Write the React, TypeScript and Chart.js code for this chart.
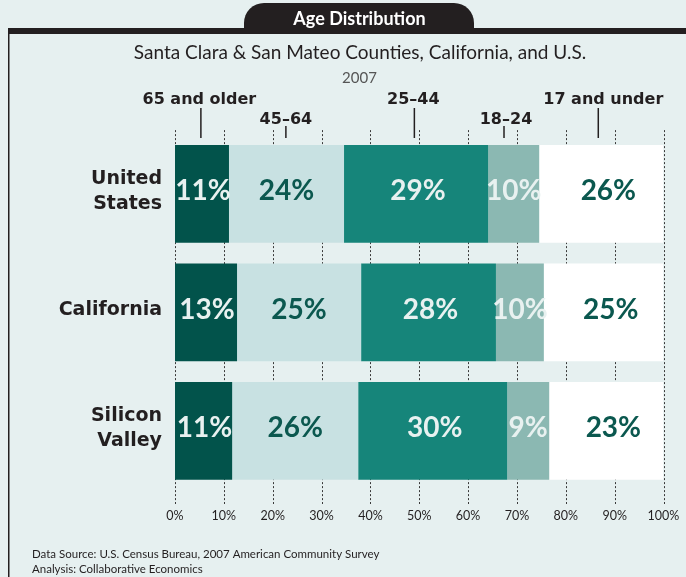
import React, { useEffect, useRef } from "react";
import { Chart, registerables } from "chart.js";

Chart.register(...registerables);

// ---------- data ----------
const REGIONS = ["United States", "California", "Silicon Valley"];
const REGION_LABEL_LINES = [["United", "States"], ["California"], ["Silicon", "Valley"]];
const AGE_GROUPS = ["65 and older", "45–64", "25–44", "18–24", "17 and under"];

// bar lengths (share of population, %)
const AGE_65_PLUS = [11.05, 12.7, 11.7];
const AGE_45_64 = [23.55, 25.4, 25.8];
const AGE_25_44 = [29.5, 27.6, 30.5];
const AGE_18_24 = [10.45, 9.8, 8.6];
const AGE_UNDER_18 = [25.45, 24.5, 23.4];

// printed value labels
const LABEL_65_PLUS = ["11%", "13%", "11%"];
const LABEL_45_64 = ["24%", "25%", "26%"];
const LABEL_25_44 = ["29%", "28%", "30%"];
const LABEL_18_24 = ["10%", "10%", "9%"];
const LABEL_UNDER_18 = ["26%", "25%", "23%"];

// where the age-group header markers point (in % along the axis)
const GROUP_MARKER_AT = [5.3, 22.7, 49.0, 67.35, 86.65];
const GROUP_MARKER_ROW = [0, 1, 0, 1, 0];

const X_MIN = 0;
const X_MAX = 100;
const X_STEP = 10;

const HEADER = "Age Distribution";
const TITLE = "Santa Clara & San Mateo Counties, California, and U.S.";
const YEAR = "2007";
const FOOTNOTES = [
  "Data Source: U.S. Census Bureau, 2007 American Community Survey",
  "Analysis: Collaborative Economics",
];

// ---------- style ----------
const W = 686;
const H = 577;
const BG = "#e6f0f0";
const INK = "#231f20";
const BAR_COLORS = ["#02534b", "#c8e1e2", "#16857a", "#8bb8b2", "#ffffff"];
const LABEL_COLORS = ["#e8f1f0", "#0b584f", "#e8f1f0", "#e8f1f0", "#0b584f"];
const LABEL_SHIFT = [1, 0, 2, 0, 7];
const GROUP_LABEL_SHIFT = [-1.5, 0, -1, 2, 5];

const SERIES = [AGE_65_PLUS, AGE_45_64, AGE_25_44, AGE_18_24, AGE_UNDER_18];
const SERIES_LABELS = [LABEL_65_PLUS, LABEL_45_64, LABEL_25_44, LABEL_18_24, LABEL_UNDER_18];

const chromePlugin = {
  id: "chrome",
  beforeDraw(chart: any) {
    const ctx = chart.ctx as CanvasRenderingContext2D;
    ctx.save();
    ctx.fillStyle = BG;
    ctx.fillRect(0, 0, W, H);

    // header tab
    ctx.fillStyle = INK;
    const tx0 = 244, tx1 = 474, ty0 = 3, ty1 = 31, r = 20;
    ctx.beginPath();
    ctx.moveTo(tx0, ty1);
    ctx.lineTo(tx0, ty0 + r);
    ctx.arcTo(tx0, ty0, tx0 + r, ty0, r);
    ctx.lineTo(tx1 - r, ty0);
    ctx.arcTo(tx1, ty0, tx1, ty0 + r, r);
    ctx.lineTo(tx1, ty1);
    ctx.closePath();
    ctx.fill();

    // frame
    ctx.fillRect(8, 28, W - 8, 6);
    ctx.fillRect(8, 28, 1.5, H - 28);

    ctx.textAlign = "center";
    ctx.textBaseline = "alphabetic";
    ctx.fillStyle = "#ffffff";
    ctx.font = "bold 18px Lato";
    ctx.fillText(HEADER, 359.5, 25);

    ctx.fillStyle = INK;
    ctx.font = "19px Lato";
    ctx.fillText(TITLE, 360, 59.3);

    ctx.fillStyle = "#555555";
    ctx.font = "15px Lato";
    ctx.fillText(YEAR, 359.5, 83.3);

    ctx.textAlign = "left";
    ctx.fillStyle = INK;
    ctx.font = "11.5px Lato";
    ctx.fillText(FOOTNOTES[0], 32, 557.7);
    ctx.fillText(FOOTNOTES[1], 32, 573.3);
    ctx.restore();
  },
  beforeDatasetsDraw(chart: any) {
    const ctx = chart.ctx as CanvasRenderingContext2D;
    const xs = chart.scales.x;
    const area = chart.chartArea;
    ctx.save();
    ctx.strokeStyle = "#3a3a3a";
    ctx.lineWidth = 1;
    ctx.setLineDash([2, 2]);
    for (const t of xs.ticks) {
      const x = Math.round(xs.getPixelForValue(t.value)) + 0.5;
      ctx.beginPath();
      ctx.moveTo(x, area.top - 4.5);
      ctx.lineTo(x, area.bottom + 14);
      ctx.stroke();
    }
    ctx.restore();
  },
  afterDatasetsDraw(chart: any) {
    const ctx = chart.ctx as CanvasRenderingContext2D;
    const xs = chart.scales.x;
    const ys = chart.scales.y;
    const area = chart.chartArea;
    ctx.save();

    // value labels
    ctx.textAlign = "center";
    ctx.textBaseline = "alphabetic";
    ctx.font = "bold 28px Lato";
    chart.data.datasets.forEach((ds: any, di: number) => {
      const meta = chart.getDatasetMeta(di);
      meta.data.forEach((el: any, i: number) => {
        const cx = (el.x + el.base) / 2 + LABEL_SHIFT[di];
        ctx.fillStyle = LABEL_COLORS[di];
        ctx.fillText(SERIES_LABELS[di][i], cx, el.y + 6.2);
      });
    });

    // category labels
    ctx.textAlign = "right";
    ctx.fillStyle = INK;
    ctx.font = "bold 19px 'DejaVu Sans'";
    REGIONS.forEach((_, i) => {
      const cy = ys.getPixelForValue(i);
      const lines = REGION_LABEL_LINES[i];
      if (lines.length === 1) {
        ctx.fillText(lines[0], area.left - 13, cy + 2.5);
      } else {
        ctx.fillText(lines[0], area.left - 13, cy - 9.8);
        ctx.fillText(lines[1], area.left - 13, cy + 15.5);
      }
    });

    // age group header markers
    ctx.textAlign = "center";
    ctx.font = "bold 16px 'DejaVu Sans'";
    ctx.strokeStyle = INK;
    ctx.lineWidth = 1.5;
    AGE_GROUPS.forEach((g, i) => {
      const x = xs.getPixelForValue(GROUP_MARKER_AT[i]);
      const row = GROUP_MARKER_ROW[i];
      const baseline = area.top - (row === 0 ? 30.6 : 10.6);
      ctx.fillText(g, x + GROUP_LABEL_SHIFT[i], baseline);
      ctx.beginPath();
      ctx.moveTo(x, baseline + (row === 0 ? 4 : 2));
      ctx.lineTo(x, area.top + 3.4);
      ctx.stroke();
    });
    ctx.restore();
  },
};

export default function App() {
  const ref = useRef<HTMLCanvasElement | null>(null);

  useEffect(() => {
    if (!ref.current) return;
    const chart = new Chart(ref.current, {
      type: "bar",
      data: {
        labels: REGIONS,
        datasets: AGE_GROUPS.map((g, i) => ({
          label: g,
          data: SERIES[i],
          backgroundColor: BAR_COLORS[i],
          borderWidth: 0,
          barPercentage: 0.825,
          categoryPercentage: 1,
        })),
      },
      plugins: [chromePlugin],
      options: {
        indexAxis: "y",
        responsive: false,
        animation: false,
        devicePixelRatio: 1,
        events: [],
        layout: { padding: { left: 175, right: 22.5, top: 134.6, bottom: 0 } },
        plugins: {
          legend: { display: false },
          tooltip: { enabled: false },
          title: { display: false },
        },
        scales: {
          x: {
            stacked: true,
            min: X_MIN,
            max: X_MAX,
            grid: { display: false, drawTicks: false },
            border: { display: false },
            ticks: {
              stepSize: X_STEP,
              padding: 18,
              color: INK,
              font: { family: "Lato", size: 12.5 },
              maxRotation: 0,
              callback: (v: any) => `${v}%`,
            },
            afterFit: (s: any) => {
              s.height = 87;
              s.paddingLeft = 0;
              s.paddingRight = 0;
            },
          },
          y: {
            stacked: true,
            display: false,
          },
        },
      },
    });
    return () => chart.destroy();
  }, []);

  return (
    <div style={{ position: "fixed", left: 0, top: 0, width: W, height: H }}>
      <canvas ref={ref} width={W} height={H} style={{ display: "block", width: W, height: H }} />
    </div>
  );
}
